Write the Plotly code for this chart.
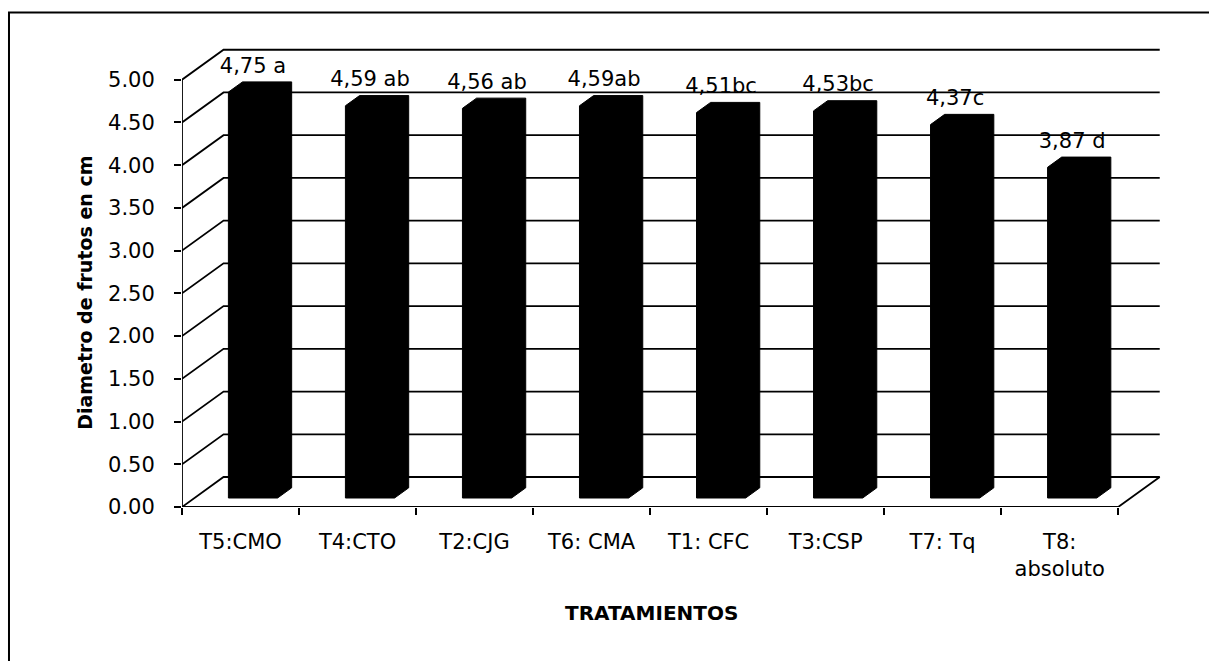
import numpy as np
import plotly.graph_objects as go

# Treatment data: mean fruit diameter (cm) and significance letters
tratamientos = ["T5:CMO", "T4:CTO", "T2:CJG", "T6: CMA", "T1: CFC", "T3:CSP", "T7: Tq", "T8:<br>absoluto"]
diametro = [4.75, 4.59, 4.56, 4.59, 4.51, 4.53, 4.37, 3.87]
letras = [" a", " ab", " ab", "ab", "bc", "bc", "c", " d"]
y_ticks = [0.0, 0.5, 1.0, 1.5, 2.0, 2.5, 3.0, 3.5, 4.0, 4.5, 5.0]

FONT = "DejaVu Sans"
n = len(tratamientos)

# oblique projection of the depth axis, in data units
DX, DY = 0.355, 0.351
BAR_W = 0.42          # bar width (fraction of category)
F0, F1 = 0.30, 0.64   # front / back depth of the bar boxes

fig = go.Figure()

# walls: back-wall gridlines and side-wall diagonals
lx, ly = [], []
for v in y_ticks:
    lx += [0, DX, n + DX, None]
    ly += [v, v + DY, v + DY, None]
# floor edges and the vertical value axis
lx += [0, n, n + DX, None, 0, 0, None]
ly += [0, 0, DY, None, 0, max(y_ticks), None]
fig.add_trace(go.Scatter(x=lx, y=ly, mode="lines",
                         line=dict(color="black", width=1.8),
                         hoverinfo="skip", showlegend=False))

# bars as box silhouettes
for i, val in enumerate(diametro):
    c = i + 0.5
    uL, uR = c - BAR_W / 2, c + BAR_W / 2
    px = [uL + F0 * DX, uL + F0 * DX, uL + F1 * DX, uR + F1 * DX,
          uR + F1 * DX, uR + F0 * DX, uL + F0 * DX]
    py = [F0 * DY, val + F0 * DY, val + F1 * DY, val + F1 * DY,
          F1 * DY, F0 * DY, F0 * DY]
    fig.add_trace(go.Scatter(x=px, y=py, mode="lines", fill="toself",
                             fillcolor="black", line=dict(color="black", width=1),
                             hoverinfo="skip", showlegend=False))

# value labels above each bar
lab_x = [i + 0.5 + F0 * DX for i in range(n)]
lab_y = [v + F1 * DY + 0.17 for v in diametro]
lab_t = [f"{v:.2f}".replace(".", ",") + s for v, s in zip(diametro, letras)]
fig.add_trace(go.Scatter(x=lab_x, y=lab_y, mode="text", text=lab_t,
                         textposition="middle center",
                         textfont=dict(family=FONT, size=21, color="black"),
                         hoverinfo="skip", showlegend=False))

# carrier trace for the boundary tick axis
fig.add_trace(go.Scatter(x=[None], y=[None], xaxis="x2", yaxis="y",
                         showlegend=False, hoverinfo="skip"))

fig.update_layout(
    width=1209, height=661,
    margin=dict(l=182, r=44, t=37, b=154),
    paper_bgcolor="white", plot_bgcolor="white",
    font=dict(family=FONT, color="black"),
    xaxis=dict(range=[0, 8.4], showgrid=False, zeroline=False, showline=False,
               tickmode="array", tickvals=[i + 0.5 for i in range(n)],
               ticktext=tratamientos, ticks="", ticklabelstandoff=20,
               tickfont=dict(family=FONT, size=21, color="black")),
    xaxis2=dict(range=[0, 8.4], overlaying="x", side="bottom", anchor="y",
                showgrid=False, zeroline=False, showline=False,
                tickmode="array", tickvals=list(range(n + 1)),
                showticklabels=False, ticks="outside", ticklen=7,
                tickwidth=2, tickcolor="black"),
    yaxis=dict(range=[0, 5.5], showgrid=False, zeroline=False, showline=False,
               tickmode="array", tickvals=y_ticks,
               ticktext=[f"{v:.2f}" for v in y_ticks],
               ticks="outside", ticklen=7, tickwidth=2, tickcolor="black",
               ticklabelstandoff=15,
               tickfont=dict(family=FONT, size=21, color="black")),
    annotations=[
        dict(text="<b>Diametro de frutos en cm</b>", textangle=-90,
             xref="paper", yref="paper", x=-0.099, y=0.455,
             xanchor="center", yanchor="middle", showarrow=False,
             font=dict(family=FONT, size=19, color="black")),
        dict(text="<b>TRATAMIENTOS</b>",
             xref="paper", yref="paper", x=0.478, y=-0.226,
             xanchor="center", yanchor="middle", showarrow=False,
             font=dict(family=FONT, size=20, color="black")),
    ],
    shapes=[dict(type="rect", xref="paper", yref="paper",
                 x0=-0.176, x1=1.2, y0=-0.6, y1=1.052,
                 line=dict(color="black", width=2), layer="below")],
)

fig.write_html("out.html")
